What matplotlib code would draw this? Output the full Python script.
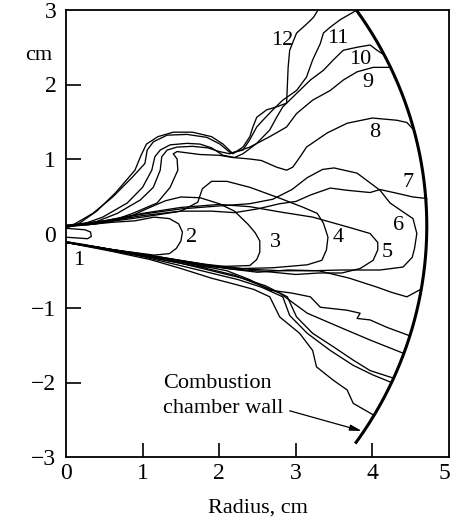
import numpy as np
import matplotlib
matplotlib.use("Agg")
import matplotlib.pyplot as plt
from matplotlib.transforms import ScaledTranslation

plt.rcParams['font.family'] = ['Liberation Serif', 'DejaVu Serif']

# ---------------- data (cm) ----------------
x_ticks = [0, 1, 2, 3, 4, 5]
y_ticks = [-3, -2, -1, 0, 1, 2, 3]

# flame front contours: each as closed/upper/lower polylines of (radius, height)
c1 = [(0, 0.07), (0.12, 0.06), (0.25, 0.05), (0.32, 0.02), (0.33, -0.04),
      (0.28, -0.07), (0.15, -0.06), (0, -0.05)]
c2 = [(0, 0.10), (0.3, 0.12), (0.6, 0.15), (0.9, 0.17), (1.15, 0.22), (1.35, 0.20),
      (1.47, 0.13), (1.52, 0.02), (1.50, -0.10), (1.44, -0.20), (1.35, -0.27),
      (1.15, -0.29), (0.85, -0.25), (0.55, -0.21), (0.25, -0.15), (0, -0.11)]
c3 = [(0, 0.09), (0.4, 0.13), (0.8, 0.21), (1.05, 0.33), (1.3, 0.44), (1.5, 0.49),
      (1.75, 0.48), (2.0, 0.40), (2.2, 0.30), (2.38, 0.12), (2.47, 0.01), (2.53, -0.10),
      (2.53, -0.25), (2.49, -0.35), (2.40, -0.43), (2.1, -0.44), (1.8, -0.45),
      (1.5, -0.38), (1.2, -0.32), (0.8, -0.26), (0.4, -0.18), (0, -0.12)]
c4 = [(0, 0.10), (0.5, 0.15), (1.0, 0.22), (1.5, 0.30), (1.72, 0.42), (1.78, 0.60),
      (1.9, 0.70), (2.1, 0.70), (2.4, 0.62), (2.8, 0.47), (3.1, 0.35), (3.28, 0.27),
      (3.36, 0.14), (3.42, -0.05), (3.40, -0.22), (3.34, -0.36), (3.15, -0.42),
      (2.7, -0.46), (2.3, -0.47), (1.8, -0.41), (1.3, -0.33), (0.8, -0.25),
      (0.4, -0.18), (0, -0.12)]
c5 = [(0, 0.10), (0.5, 0.17), (1.0, 0.27), (1.5, 0.35), (2.0, 0.39), (2.4, 0.36),
      (2.79, 0.29), (3.22, 0.22), (3.67, 0.09), (3.97, 0.0), (4.07, -0.12),
      (4.07, -0.22), (4.01, -0.36), (3.84, -0.47), (3.6, -0.53), (3.3, -0.53),
      (3.0, -0.55), (2.6, -0.51), (2.2, -0.48), (1.8, -0.43), (1.3, -0.34),
      (0.8, -0.26), (0.4, -0.19), (0, -0.12)]
c6 = [(0, 0.11), (0.5, 0.17), (1.0, 0.26), (1.5, 0.33), (2.0, 0.37), (2.4, 0.40),
      (2.7, 0.46), (2.95, 0.59), (3.15, 0.75), (3.35, 0.86), (3.5, 0.88), (3.8, 0.81),
      (4.1, 0.58), (4.23, 0.41), (4.4, 0.29), (4.53, 0.20), (4.58, 0.0), (4.55, -0.2),
      (4.52, -0.32), (4.4, -0.45), (4.1, -0.49), (3.6, -0.49), (3.2, -0.50),
      (2.8, -0.50), (2.4, -0.48), (2.0, -0.45), (1.6, -0.38), (1.2, -0.31),
      (0.8, -0.25), (0.4, -0.18), (0, -0.12)]
c7_up = [(0, 0.10), (0.5, 0.16), (1.0, 0.24), (1.5, 0.30), (1.9, 0.30), (2.2, 0.28),
         (2.5, 0.33), (2.79, 0.40), (3.0, 0.43), (3.2, 0.52), (3.45, 0.61), (3.67, 0.58),
         (3.97, 0.55), (4.1, 0.59), (4.32, 0.54), (4.53, 0.49), (4.71, 0.47)]
c7_lo = [(4.63, -0.75), (4.45, -0.85), (4.25, -0.79), (4.06, -0.72), (3.7, -0.60),
         (3.3, -0.50), (2.9, -0.49), (2.5, -0.52), (2.1, -0.47), (1.7, -0.40),
         (1.3, -0.33), (0.9, -0.26), (0.5, -0.20), (0, -0.12)]
c8_up = [(0, 0.10), (0.3, 0.12), (0.57, 0.16), (0.87, 0.27), (1.19, 0.41), (1.36, 0.62),
         (1.46, 0.85), (1.45, 1.0), (1.40, 1.07), (1.45, 1.10), (1.6, 1.08), (1.75, 1.06),
         (2.0, 1.05), (2.18, 1.02), (2.4, 1.0), (2.55, 0.98), (2.75, 0.89), (2.88, 0.85),
         (2.96, 0.89), (3.05, 1.02), (3.14, 1.16), (3.41, 1.35), (3.67, 1.48), (4.0, 1.55),
         (4.32, 1.52), (4.45, 1.49), (4.54, 1.39)]
c8_lo = [(4.48, -1.37), (4.19, -1.26), (3.97, -1.16), (3.80, -1.14), (3.84, -1.07),
         (3.67, -1.03), (3.32, -0.99), (3.19, -0.85), (2.95, -0.80), (2.66, -0.76),
         (2.4, -0.62), (2.1, -0.50), (1.7, -0.42), (1.3, -0.34), (0.9, -0.27),
         (0.5, -0.20), (0, -0.12)]
c9_up = [(0, 0.11), (0.35, 0.14), (0.67, 0.27), (0.97, 0.45), (1.14, 0.62), (1.23, 0.85),
         (1.25, 1.03), (1.32, 1.12), (1.45, 1.16), (1.65, 1.17), (1.85, 1.15), (2.0, 1.10),
         (2.14, 1.07), (2.4, 1.16), (2.66, 1.30), (2.88, 1.43), (3.01, 1.61), (3.22, 1.79),
         (3.45, 1.92), (3.62, 2.06), (3.8, 2.17), (4.01, 2.23), (4.24, 2.23)]
c9_lo = [(4.41, -1.61), (3.97, -1.43), (3.58, -1.26), (3.15, -1.07), (2.79, -0.80),
         (2.5, -0.68), (2.2, -0.56), (1.8, -0.46), (1.4, -0.38), (1.0, -0.30),
         (0.5, -0.21), (0, -0.12)]
c10_up = [(0, 0.10), (0.18, 0.11), (0.48, 0.22), (0.8, 0.41), (1.0, 0.62), (1.12, 0.85),
          (1.16, 1.03), (1.23, 1.12), (1.36, 1.19), (1.58, 1.21), (1.75, 1.20), (1.9, 1.15),
          (2.05, 1.05), (2.2, 1.02), (2.31, 1.07), (2.49, 1.21), (2.66, 1.39), (2.75, 1.56),
          (2.83, 1.70), (3.01, 1.88), (3.19, 2.06), (3.36, 2.19), (3.49, 2.33), (3.62, 2.46),
          (3.8, 2.50), (3.97, 2.53), (4.06, 2.46), (4.15, 2.40)]
c10_lo = [(4.27, -1.94), (3.97, -1.84), (3.75, -1.70), (3.49, -1.52), (3.22, -1.34),
          (3.01, -1.12), (2.89, -0.85), (2.6, -0.70), (2.3, -0.60), (1.9, -0.50),
          (1.5, -0.40), (1.0, -0.30), (0.5, -0.21), (0, -0.11)]
c11_up = [(0, 0.09), (0.05, 0.09), (0.35, 0.27), (0.61, 0.49), (0.87, 0.76), (1.03, 0.94),
          (1.06, 1.12), (1.14, 1.23), (1.32, 1.32), (1.58, 1.33), (1.84, 1.29), (2.01, 1.20),
          (2.15, 1.08), (2.31, 1.12), (2.4, 1.26), (2.49, 1.43), (2.57, 1.52), (2.7, 1.66),
          (2.83, 1.79), (3.01, 1.92), (3.14, 2.10), (3.22, 2.33), (3.32, 2.55), (3.36, 2.69),
          (3.45, 2.77), (3.58, 2.87), (3.8, 3.0)]
c11_lo = [(4.25, -2.0), (4.01, -1.90), (3.75, -1.77), (3.45, -1.57), (3.15, -1.34),
          (2.92, -1.10), (2.83, -0.85), (2.55, -0.72), (2.25, -0.62), (1.85, -0.52),
          (1.45, -0.42), (1.0, -0.31), (0.5, -0.21), (0, -0.11)]
c12_up = [(0, 0.08), (0.15, 0.12), (0.4, 0.30), (0.65, 0.55), (0.9, 0.85), (0.98, 1.05),
          (1.05, 1.20), (1.2, 1.30), (1.4, 1.36), (1.65, 1.36), (1.9, 1.30), (2.05, 1.20),
          (2.18, 1.07), (2.31, 1.16), (2.4, 1.30), (2.44, 1.43), (2.49, 1.56), (2.62, 1.66),
          (2.75, 1.70), (2.88, 1.75), (2.9, 2.23), (2.92, 2.46), (3.01, 2.69), (3.15, 2.82),
          (3.23, 2.90), (3.29, 3.0)]
c12_lo = [(4.02, -2.44), (3.75, -2.28), (3.67, -2.10), (3.49, -1.97), (3.27, -1.79),
          (3.22, -1.57), (3.05, -1.34), (2.79, -1.12), (2.66, -0.85), (2.45, -0.75),
          (2.2, -0.68), (1.9, -0.60), (1.5, -0.47), (1.1, -0.35), (0.6, -0.24), (0, -0.12)]

contours = [c1, c2, c3, c4, c5, c6, c7_up, c7_lo, c8_up, c8_lo, c9_up, c9_lo,
            c10_up, c10_lo, c11_up, c11_lo, c12_up, c12_lo]

label_text = ["1", "2", "3", "4", "5", "6", "7", "8", "9", "10", "11", "12"]
label_x = [0.17, 1.64, 2.73, 3.55, 4.19, 4.34, 4.47, 4.03, 3.94, 3.84, 3.55, 2.82]
label_y = [-0.36, -0.06, -0.12, -0.06, -0.25, 0.11, 0.69, 1.35, 2.03, 2.34, 2.62, 2.59]

# combustion chamber wall (circular arc)
wall_center = (-0.32, 0.10)
wall_radius = 5.03
wall_y_top = 3.0
wall_y_bottom = -2.82

# ---------------- figure ----------------
W, H = 453, 523
fig = plt.figure(figsize=(W / 100, H / 100), dpi=100)
ax = fig.add_axes([66 / W, 1 - 457 / H, (449 - 66) / W, (457 - 10) / H])
ax.set_xlim(0, 5)
ax.set_ylim(-3, 3)

for c in contours:
    xs, ys = zip(*c)
    ax.plot(xs, ys, color='black', lw=0.95, solid_joinstyle='round')

cx, cy = wall_center
t0 = np.arcsin((wall_y_top - cy) / wall_radius)
t1 = np.arcsin((wall_y_bottom - cy) / wall_radius)
t = np.linspace(t0, t1, 200)
ax.plot(cx + wall_radius * np.cos(t), cy + wall_radius * np.sin(t),
        color='black', lw=2.2, solid_capstyle='butt', clip_on=False)

for s, x, y in zip(label_text, label_x, label_y):
    ax.text(x, y, s, ha='center', va='center', fontsize=16)

ax.text(1.27, -2.01, "Combustion", ha='left', va='center', fontsize=16)
ax.text(1.27, -2.35, "chamber wall", ha='left', va='center', fontsize=16)
ax.annotate("", xy=(3.86, -2.65), xytext=(2.92, -2.38),
            arrowprops=dict(arrowstyle='-|>,head_length=0.7,head_width=0.18',
                            color='black', lw=0.9, shrinkA=0, shrinkB=0))

ax.set_xticks(x_ticks)
ax.set_yticks(y_ticks)
ax.set_xticklabels([str(v) for v in x_ticks])
ax.set_yticklabels([str(v).replace('-', '\u2212') for v in y_ticks])
ax.tick_params(axis='x', direction='in', length=10, width=1.2, labelsize=17, pad=4)
ax.tick_params(axis='y', direction='in', length=11, width=1.2, labelsize=17, pad=7)
for i, tk in enumerate(ax.xaxis.get_major_ticks()):
    if x_ticks[i] in (0, 5):
        tk.tick1line.set_visible(False)
for i, tk in enumerate(ax.yaxis.get_major_ticks()):
    if y_ticks[i] in (-3, 0, 3):
        tk.tick1line.set_visible(False)
last = ax.get_xticklabels()[-1]
last.set_transform(last.get_transform() + ScaledTranslation(-3 / 72, 0, fig.dpi_scale_trans))
for sp in ax.spines.values():
    sp.set_linewidth(1.3)

fig.text(39 / W, 1 - 55 / H, "cm", ha='center', va='center', fontsize=16)
fig.text(258 / W, 1 - 508 / H, "Radius, cm", ha='center', va='center', fontsize=16)

fig.savefig("out.png", dpi=100)
